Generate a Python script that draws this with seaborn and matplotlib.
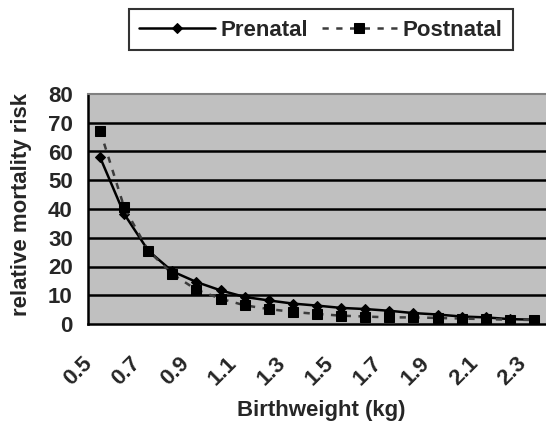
import numpy as np
import pandas as pd
import matplotlib
matplotlib.use("Agg")
import matplotlib.pyplot as plt
import matplotlib.transforms as mtrans
import seaborn as sns

# categories (birthweight, kg) and series values
weights = ["0.5", "0.6", "0.7", "0.8", "0.9", "1.0", "1.1", "1.2", "1.3", "1.4",
           "1.5", "1.6", "1.7", "1.8", "1.9", "2.0", "2.1", "2.2", "2.3"]
prenatal = [58.0, 38.3, 25.5, 18.3, 14.6, 11.7, 9.4, 8.2, 7.1, 6.4,
            5.6, 5.2, 4.6, 3.8, 3.3, 2.6, 2.3, 1.7, 1.5]
postnatal = [67.3, 40.6, 25.5, 17.4, 11.9, 8.8, 6.5, 5.2, 4.2, 3.5,
             2.9, 2.6, 2.3, 2.3, 2.1, 1.9, 1.7, 1.5, 1.4]
tick_labels = weights[::2]

df = pd.DataFrame({"pos": np.arange(len(weights)), "weight": weights,
                   "Prenatal": prenatal, "Postnatal": postnatal})

sns.set_theme(style="white")
plt.rcParams["font.family"] = ["Liberation Sans", "DejaVu Sans"]
plt.rcParams["font.weight"] = "bold"

FS = 16

fig = plt.figure(figsize=(5.46, 4.23), dpi=100)
ax = fig.add_axes([88 / 546, 99 / 423, 458 / 546, 230 / 423])
ax.set_facecolor("#c0c0c0")

sns.lineplot(data=df, x="pos", y="Prenatal", ax=ax, color="black", lw=1.8,
             marker="D", markersize=5, markeredgecolor="black", label="Prenatal")
sns.lineplot(data=df, x="pos", y="Postnatal", ax=ax, color="#3c3c3c", lw=1.8,
             linestyle=(0, (2.5, 3)), marker="s", markersize=6.5,
             markerfacecolor="black", markeredgecolor="black", label="Postnatal")

ax.set_ylim(0, 80)
ax.set_yticks(range(0, 81, 10))
ax.set_xlim(-0.5, 458 / 24.35 - 0.5)

# category-axis look: tick marks between categories, labels on every other one
ax.set_xticks(np.arange(0, len(weights), 2))
ax.set_xticklabels(tick_labels, rotation=45, ha="right", rotation_mode="anchor")
ax.set_xticks(np.arange(-0.5, len(weights), 1), minor=True)
ax.tick_params(axis="x", which="major", length=0, pad=21, labelsize=FS)
ax.tick_params(axis="x", which="minor", length=5, width=1.5, color="black", direction="out")
ax.tick_params(axis="y", length=5, width=1.5, color="black", direction="out", labelsize=FS, pad=6)
shift = mtrans.ScaledTranslation(-18 / 100, 0, fig.dpi_scale_trans)
for lab in ax.get_xticklabels():
    lab.set_transform(lab.get_transform() + shift)
for lab in ax.get_xticklabels() + ax.get_yticklabels():
    lab.set_fontweight("bold")

for y in range(10, 80, 10):
    ax.axhline(y, color="black", lw=1.8, zorder=1)

ax.spines["right"].set_visible(False)
ax.spines["top"].set_color("#808080")
ax.spines["top"].set_linewidth(1.5)
ax.spines["left"].set_color("black")
ax.spines["left"].set_linewidth(1.8)
ax.spines["bottom"].set_color("black")
ax.spines["bottom"].set_linewidth(1.8)

ax.set_xlabel("Birthweight (kg)", fontsize=FS, fontweight="bold", va="center")
ax.xaxis.set_label_coords((321.5 - 88) / 458, -(410 - 324) / 230)
ax.set_ylabel("relative mortality risk", fontsize=FS, fontweight="bold", va="center")
ax.yaxis.set_label_coords(-(88 - 22) / 458, (324 - 204) / 230)

handles, labels = ax.get_legend_handles_labels()
ax.get_legend().remove()
leg = fig.legend(handles, labels, loc="center", bbox_to_anchor=(321 / 546, 1 - 30 / 423),
                 ncol=2, frameon=True, fancybox=False, edgecolor="black",
                 handlelength=3.4, columnspacing=0.6, handletextpad=0.25,
                 prop={"weight": "bold", "size": FS}, borderpad=0.45, borderaxespad=0)
leg.get_frame().set_linewidth(1.5)

fig.savefig("out.png", dpi=100, facecolor="white")
